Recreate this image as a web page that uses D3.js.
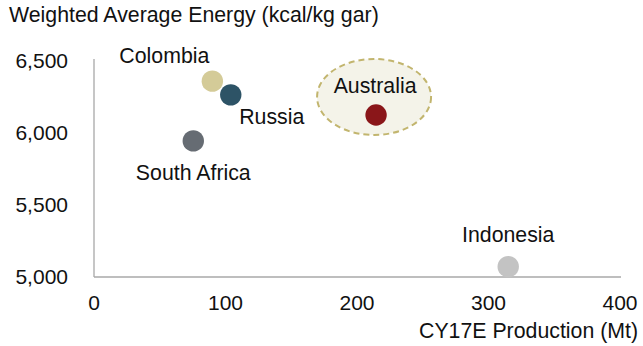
<!DOCTYPE html>
<html><head><meta charset="utf-8">
<script src="https://cdn.jsdelivr.net/npm/d3@7"></script>
<style>body{margin:0;background:#fff}svg{display:block}text{font-family:"Liberation Sans",Arial,sans-serif;fill:#111}</style>
</head><body><svg id="c" width="643" height="346"></svg>
<script>
const countries = ["Colombia","Russia","South Africa","Australia","Indonesia"];
const production = [90, 104, 75.5, 214.5, 315];
const energy = [6360, 6265, 5945, 6125, 5072];
const colors = ["#d4cb98","#2d5366","#666c73","#8a1619","#c3c3c3"];
const xTicks = [0,100,200,300,400];
const yTicks = [5000,5500,6000,6500];
const labelDx = [-48, 41, 0, -1, 0];
const labelDy = [-18, 29, 39, -22, -25];

const svg = d3.select("#c");
const x = d3.scaleLinear().domain([0,400]).range([94,620]);
const y = d3.scaleLinear().domain([5000,6500]).range([277,61]);
const fs = 21;
const lfs = 21.3;

// highlight ellipse around Australia
const ai = countries.indexOf("Australia");
svg.append("ellipse").attr("cx", x(production[ai]) - 2).attr("cy", y(energy[ai]) - 18)
  .attr("rx", 57).attr("ry", 38).attr("fill", "#f4f3e9")
  .attr("stroke", "#c2b56e").attr("stroke-width", 2).attr("stroke-dasharray", "6,4");

// axes lines
svg.append("line").attr("x1", 94).attr("x2", 94).attr("y1", 59).attr("y2", 277).attr("stroke","#a8a8a8").attr("stroke-width",1.3);
svg.append("line").attr("x1", 94).attr("x2", 621).attr("y1", 277).attr("y2", 277).attr("stroke","#a8a8a8").attr("stroke-width",1.3);

svg.selectAll("text.xt").data(xTicks).join("text").attr("class","xt")
  .attr("x", d => x(d)).attr("y", 310).attr("text-anchor","middle").attr("font-size", fs).text(d => d);
svg.selectAll("text.yt").data(yTicks).join("text").attr("class","yt")
  .attr("x", 68).attr("y", d => y(d) + 7).attr("text-anchor","end").attr("font-size", fs).text(d3.format(","));

svg.append("text").attr("x", 9).attr("y", 22).attr("font-size", lfs).text("Weighted Average Energy (kcal/kg gar)");
svg.append("text").attr("x", 638).attr("y", 338).attr("text-anchor","end").attr("font-size", lfs).text("CY17E Production (Mt)");

svg.selectAll("circle.pt").data(countries).join("circle").attr("class","pt")
  .attr("cx", (d,i) => x(production[i])).attr("cy", (d,i) => y(energy[i]))
  .attr("r", 10.7).attr("fill", (d,i) => colors[i]);

svg.selectAll("text.lab").data(countries).join("text").attr("class","lab")
  .attr("x", (d,i) => x(production[i]) + labelDx[i]).attr("y", (d,i) => y(energy[i]) + labelDy[i])
  .attr("text-anchor","middle").attr("font-size", lfs).text(d => d);
</script></body></html>
